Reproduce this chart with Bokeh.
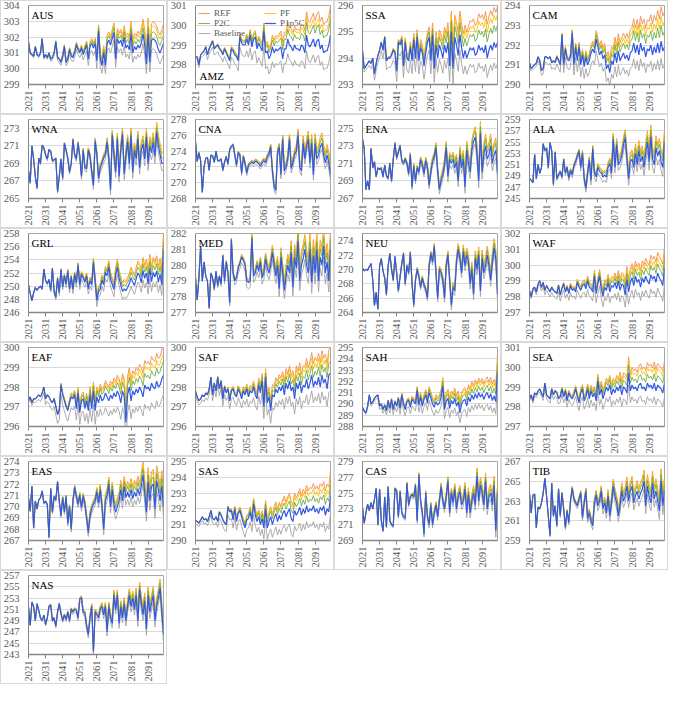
import numpy as np
from bokeh.plotting import figure
from bokeh.layouts import gridplot
from bokeh.models import Range1d, FixedTicker, Legend, LegendItem, Label
from bokeh.embed import file_html
from bokeh.resources import INLINE

years = list(range(2021, 2101))
gap_years = [2021, 2031, 2041, 2051, 2061, 2071, 2081, 2091, 2100]
x_ticks = [2021, 2031, 2041, 2051, 2061, 2071, 2081, 2091]
series_names = ["REF", "PF", "P2C", "P1p5C", "Baseline"]

# P1p5C series, and the offsets of the other scenarios from it
AUS = [301.7, 301.0, 300.9, 300.8, 301.4, 300.9, 300.8, 301.0, 301.9, 300.7,
       300.9, 300.7, 301.0, 300.6, 300.7, 301.0, 301.7, 300.7, 300.6, 300.4,
       300.8, 301.4, 300.4, 300.6, 301.2, 300.8, 300.7, 301.0, 301.5, 301.2,
       301.0, 301.3, 300.9, 301.2, 301.5, 300.6, 301.4, 301.6, 301.3, 301.6,
       300.5, 302.4, 300.6, 300.2, 301.0, 300.2, 301.6, 301.8, 301.5, 301.9,
       302.3, 300.6, 301.9, 301.6, 301.8, 301.4, 302.0, 301.3, 301.5, 301.2,
       302.2, 301.0, 301.4, 301.2, 301.5, 301.3, 301.6, 302.2, 301.5, 300.3,
       302.2, 300.4, 301.8, 301.9, 301.8, 301.6, 301.2, 301.0, 301.3, 301.6]
AUS_gaps = {"REF": [0, 0, 0.1, 0.2, 0.35, 0.6, 0.8, 1.0, 1.2],
            "PF": [0, 0, 0.1, 0.15, 0.3, 0.5, 0.6, 0.8, 0.9],
            "P2C": [0, 0, 0.05, 0.1, 0.2, 0.3, 0.35, 0.4, 0.5],
            "Baseline": [-0.1, -0.1, -0.2, -0.3, -0.5, -0.5, -0.6, -0.6, -0.7]}

AMZ = [298.4, 298.4, 298.0, 298.5, 298.6, 298.7, 298.9, 298.5, 298.8, 299.0,
       299.2, 298.8, 298.9, 299.0, 298.8, 298.7, 298.5, 298.8, 298.6, 298.4,
       298.2, 298.8, 298.7, 298.5, 298.4, 298.2, 299.4, 299.1, 299.0, 299.0,
       299.3, 299.0, 299.5, 298.9, 299.3, 299.4, 298.8, 299.1, 298.9, 298.7,
       299.7, 298.6, 298.7, 298.3, 298.5, 298.9, 298.6, 298.8, 298.7, 298.8,
       298.9, 298.3, 298.8, 298.8, 299.3, 299.0, 298.9, 298.7, 299.0, 298.8,
       298.8, 298.7, 299.0, 298.9, 298.6, 299.5, 299.0, 298.9, 299.1, 299.3,
       298.9, 299.2, 299.3, 298.8, 299.0, 298.6, 298.7, 298.7, 299.0, 299.5]
AMZ_gaps = {"REF": [0, 0.05, 0.1, 0.25, 0.4, 0.8, 1.0, 1.35, 1.5],
            "PF": [0, 0.05, 0.1, 0.2, 0.35, 0.65, 0.85, 1.0, 1.1],
            "P2C": [0, 0, 0.05, 0.15, 0.25, 0.45, 0.55, 0.7, 0.8],
            "Baseline": [-0.1, -0.3, -0.4, -0.6, -0.8, -0.7, -0.8, -0.8, -0.9]}

SSA = [294.3, 293.6, 293.7, 293.8, 293.9, 293.8, 294.0, 293.4, 293.8, 294.1,
       294.3, 294.6, 294.3, 294.8, 293.9, 294.0, 294.0, 294.1, 294.3, 294.2,
       293.5, 294.6, 294.5, 294.7, 293.7, 294.6, 294.0, 293.9, 294.4, 293.9,
       294.7, 294.0, 294.8, 293.9, 294.4, 294.2, 293.7, 294.2, 294.6, 294.8,
       293.9, 294.9, 293.6, 294.5, 294.0, 294.5, 294.3, 294.0, 294.5, 294.2,
       294.6, 293.7, 295.0, 293.6, 294.8, 294.5, 294.1, 294.9, 294.4, 294.0,
       294.3, 294.0, 294.2, 294.4, 294.3, 294.4, 294.1, 294.2, 294.5, 294.3,
       294.4, 294.2, 294.5, 294.0, 294.3, 294.5, 294.3, 294.6, 294.4, 294.6]
SSA_gaps = {"REF": [0, 0, 0.1, 0.25, 0.4, 0.75, 0.95, 1.25, 1.35],
            "PF": [0, 0, 0.1, 0.2, 0.3, 0.6, 0.75, 0.95, 1.05],
            "P2C": [0, 0, 0.05, 0.1, 0.2, 0.4, 0.45, 0.6, 0.65],
            "Baseline": [-0.1, -0.3, -0.4, -0.5, -0.5, -0.6, -0.6, -0.7, -0.8]}

CAM = [291.1, 290.8, 290.9, 291.0, 291.1, 291.4, 291.2, 290.7, 290.8, 291.4,
       291.4, 291.3, 291.4, 291.1, 291.2, 291.1, 291.4, 291.2, 291.0, 292.5,
       291.0, 291.8, 291.3, 291.2, 291.4, 292.6, 291.0, 291.9, 291.2, 291.9,
       291.0, 291.5, 290.9, 291.4, 291.0, 291.2, 291.6, 291.8, 291.6, 292.3,
       291.9, 291.5, 291.7, 291.3, 291.5, 290.8, 291.0, 290.6, 291.2, 291.0,
       291.6, 291.1, 291.7, 291.2, 291.4, 291.6, 291.3, 291.5, 291.2, 291.6,
       291.7, 292.1, 291.6, 292.0, 291.5, 292.1, 291.7, 291.9, 291.4, 291.8,
       291.7, 292.0, 291.5, 291.9, 291.6, 292.1, 291.6, 292.2, 291.7, 291.9]
CAM_gaps = {"REF": [0, 0, 0.1, 0.25, 0.45, 0.8, 1.2, 1.5, 1.8],
            "PF": [0, 0, 0.1, 0.2, 0.35, 0.6, 0.9, 1.1, 1.3],
            "P2C": [0, 0, 0.05, 0.15, 0.25, 0.4, 0.6, 0.7, 0.8],
            "Baseline": [-0.1, -0.3, -0.4, -0.6, -0.6, -0.7, -0.8, -0.8, -0.9]}

WNA = [268.2, 266.8, 271.0, 269.5, 267.5, 266.2, 269.6, 269.0, 271.1, 270.8,
       270.0, 269.5, 270.6, 270.4, 269.3, 269.4, 269.6, 265.8, 267.5, 269.5,
       267.3, 271.3, 270.5, 269.6, 268.0, 269.0, 271.7, 270.0, 269.5, 271.3,
       269.8, 267.5, 270.5, 268.5, 268.4, 270.5, 269.8, 268.0, 266.5, 271.5,
       270.0, 267.3, 268.5, 269.0, 269.6, 270.0, 271.4, 269.5, 266.0, 272.2,
       270.0, 268.0, 271.8, 267.5, 270.5, 272.3, 267.8, 269.8, 271.5, 269.0,
       272.2, 268.0, 270.5, 269.5, 271.8, 268.5, 270.5, 271.2, 269.5, 272.0,
       269.0, 271.0, 270.2, 271.4, 269.8, 272.5, 271.0, 270.0, 269.0, 269.0]
WNA_gaps = {"REF": [0, 0, 0.05, 0.2, 0.4, 0.6, 0.8, 1.0, 1.3],
            "PF": [0, 0, 0.05, 0.15, 0.3, 0.5, 0.7, 0.9, 1.1],
            "P2C": [0, 0, 0, 0.1, 0.2, 0.3, 0.4, 0.5, 0.6],
            "Baseline": [-0.1, -0.2, -0.2, -0.3, -0.5, -0.6, -0.7, -0.8, -0.8]}

CNA = [275.2, 272.7, 273.8, 272.8, 268.8, 272.0, 273.1, 273.2, 271.6, 273.5,
       273.4, 272.6, 274.0, 272.8, 272.8, 273.0, 271.6, 272.6, 273.3, 272.4,
       274.2, 274.6, 274.8, 273.5, 272.2, 273.8, 273.5, 271.2, 273.3, 272.4,
       271.2, 272.2, 272.4, 272.6, 272.4, 272.7, 272.6, 272.4, 272.1, 272.5,
       272.8, 272.5, 273.2, 273.6, 274.5, 271.5, 269.5, 269.0, 273.8, 274.5,
       271.0, 275.5, 271.5, 272.0, 273.0, 275.5, 271.8, 272.5, 273.5, 274.0,
       276.0, 272.0, 271.5, 275.0, 273.0, 274.5, 275.5, 272.5, 275.0, 271.0,
       275.0, 273.0, 273.5, 274.5, 275.0, 273.5, 272.5, 273.5, 272.5, 271.0]
CNA_gaps = {"REF": [0, 0, 0.1, 0.25, 0.35, 0.5, 0.8, 1.2, 1.4],
            "PF": [0, 0, 0.1, 0.2, 0.3, 0.4, 0.7, 1.0, 1.1],
            "P2C": [0, 0, 0.05, 0.15, 0.2, 0.3, 0.4, 0.6, 0.7],
            "Baseline": [0, -0.1, -0.2, -0.3, -0.4, -0.5, -0.6, -0.7, -0.8]}

ENA = [273.8, 272.7, 268.0, 269.0, 268.0, 272.7, 270.5, 271.2, 269.5, 270.5,
       270.3, 270.5, 269.5, 270.8, 269.6, 269.3, 271.0, 269.0, 271.5, 273.3,
       271.6, 272.3, 273.0, 271.3, 271.0, 271.5, 271.0, 269.8, 272.0, 268.3,
       270.7, 269.0, 270.5, 270.0, 271.4, 270.8, 269.8, 271.3, 270.5, 268.5,
       270.0, 271.2, 271.7, 272.8, 270.0, 268.0, 269.0, 269.7, 270.8, 272.8,
       269.5, 271.5, 271.0, 271.5, 270.5, 271.2, 269.0, 272.0, 270.5, 271.5,
       268.3, 272.5, 271.0, 270.0, 272.5, 273.5, 274.0, 272.0, 269.0, 274.5,
       270.0, 272.0, 273.0, 271.5, 272.0, 273.0, 271.0, 272.0, 272.5, 270.0]
ENA_gaps = {"REF": [0, 0, 0.1, 0.25, 0.5, 0.7, 1.0, 1.3, 1.4],
            "PF": [0, 0, 0.1, 0.2, 0.4, 0.6, 0.9, 1.1, 1.2],
            "P2C": [0, 0, 0.05, 0.15, 0.3, 0.4, 0.6, 0.7, 0.8],
            "Baseline": [0, -0.1, -0.2, -0.3, -0.4, -0.6, -0.7, -0.8, -0.9]}

ALA = [248.6, 248.2, 247.8, 252.8, 248.5, 251.0, 249.5, 250.5, 254.7, 253.5,
       254.0, 250.5, 254.9, 253.5, 247.5, 253.2, 248.5, 249.2, 249.8, 248.8,
       251.9, 249.5, 250.5, 248.6, 250.0, 249.2, 250.8, 251.5, 252.5, 253.3,
       250.5, 253.0, 248.5, 246.8, 249.5, 251.8, 248.2, 253.8, 249.5, 248.8,
       250.5, 249.8, 249.5, 248.8, 249.2, 248.8, 250.5, 251.2, 249.5, 255.5,
       250.5, 254.5, 251.0, 251.5, 252.5, 254.5, 255.8, 252.0, 248.5, 251.5,
       252.0, 250.5, 253.0, 251.0, 253.5, 251.5, 252.5, 250.5, 253.0, 255.0,
       251.5, 256.0, 252.0, 251.0, 254.0, 252.5, 253.5, 251.5, 250.5, 255.0]
ALA_gaps = {"REF": [0, 0, 0.2, 0.5, 0.7, 1.1, 1.6, 2.0, 2.2],
            "PF": [0, 0, 0.2, 0.4, 0.6, 0.9, 1.3, 1.6, 1.8],
            "P2C": [0, 0, 0.1, 0.3, 0.4, 0.6, 0.8, 1.0, 1.2],
            "Baseline": [0, -0.2, -0.4, -0.6, -0.9, -1.0, -1.2, -1.5, -1.6]}

GRL = [250.2, 248.9, 247.8, 249.0, 249.8, 249.4, 249.8, 250.0, 249.6, 252.6,
       250.9, 250.4, 251.0, 249.4, 252.7, 249.2, 248.3, 251.2, 249.0, 252.5,
       249.9, 251.6, 250.3, 252.3, 249.6, 251.4, 249.5, 251.8, 250.5, 253.2,
       250.2, 251.8, 251.2, 250.6, 251.5, 249.6, 250.8, 250.2, 253.6, 250.8,
       247.8, 249.2, 249.6, 250.9, 250.2, 252.1, 251.6, 252.9, 251.0, 250.3,
       249.5, 251.6, 252.9, 251.2, 250.2, 249.2, 249.6, 249.3, 249.8, 250.4,
       251.3, 250.6, 250.1, 251.1, 252.0, 251.6, 250.5, 252.4, 251.2, 252.0,
       250.3, 252.7, 250.7, 252.1, 251.4, 252.3, 250.6, 251.8, 250.2, 255.5]
GRL_gaps = {"REF": [0, 0, 0.2, 0.4, 0.7, 1.1, 1.6, 2.1, 2.5],
            "PF": [0, 0, 0.1, 0.3, 0.6, 0.9, 1.3, 1.7, 2.0],
            "P2C": [0, 0, 0.1, 0.2, 0.4, 0.6, 0.8, 1.0, 1.2],
            "Baseline": [0, -0.2, -0.5, -0.7, -0.9, -1.1, -1.3, -1.5, -1.6]}

MED = [279.2, 277.8, 279.2, 281.2, 279.0, 280.2, 279.3, 279.0, 277.3, 279.5,
       279.2, 278.5, 279.6, 278.7, 279.3, 278.8, 280.6, 279.0, 280.2, 279.5,
       277.6, 281.6, 279.5, 279.0, 279.2, 279.8, 280.1, 280.5, 280.3, 280.0,
       279.0, 278.9, 279.0, 281.7, 279.3, 279.5, 280.0, 279.6, 280.2, 279.2,
       279.5, 280.4, 279.8, 279.5, 280.0, 280.8, 280.0, 279.3, 280.0, 278.5,
       280.5, 279.5, 278.4, 279.3, 280.0, 279.5, 280.8, 278.6, 280.5, 279.8,
       281.5, 279.0, 280.0, 280.4, 281.0, 280.0, 279.5, 281.0, 278.9, 280.6,
       279.5, 281.0, 279.0, 280.5, 280.0, 281.2, 279.5, 280.2, 279.0, 281.0]
MED_gaps = {"REF": [0, 0, 0.1, 0.2, 0.35, 0.6, 0.85, 1.05, 1.2],
            "PF": [0, 0, 0.1, 0.2, 0.3, 0.5, 0.7, 0.85, 0.95],
            "P2C": [0, 0, 0.05, 0.1, 0.2, 0.3, 0.45, 0.5, 0.6],
            "Baseline": [0, -0.1, -0.2, -0.4, -0.4, -0.5, -0.6, -0.7, -0.7]}

NEU = [270.2, 269.8, 270.0, 269.9, 270.4, 270.8, 268.5, 265.0, 266.8, 264.5,
       270.5, 271.5, 269.8, 268.8, 266.5, 270.5, 272.2, 270.0, 268.5, 271.8,
       269.5, 267.0, 269.0, 270.8, 272.2, 268.0, 270.5, 269.5, 272.3, 268.0,
       265.0, 268.5, 270.0, 269.0, 267.5, 268.8, 267.8, 267.2, 266.0, 270.5,
       272.2, 271.0, 273.2, 269.5, 266.0, 270.0, 269.5, 268.5, 266.0, 270.5,
       272.0, 268.5, 265.0, 267.5, 267.0, 271.0, 272.8, 271.5, 269.5, 272.5,
       270.5, 272.0, 271.0, 268.0, 270.0, 266.5, 271.5, 270.0, 272.0, 267.0,
       271.5, 269.5, 270.5, 272.0, 270.5, 268.5, 271.0, 273.0, 271.5, 266.5]
NEU_gaps = {"REF": [0, 0, 0.1, 0.25, 0.35, 0.6, 0.95, 1.2, 1.3],
            "PF": [0, 0, 0.1, 0.2, 0.3, 0.5, 0.8, 1.0, 1.1],
            "P2C": [0, 0, 0.05, 0.15, 0.2, 0.3, 0.5, 0.6, 0.7],
            "Baseline": [0, -0.1, -0.2, -0.3, -0.4, -0.6, -0.7, -0.8, -0.9]}

WAF = [298.4, 298.0, 298.5, 298.6, 298.3, 298.8, 299.0, 298.6, 298.9, 298.4,
       298.7, 298.5, 298.3, 298.6, 298.4, 298.3, 298.2, 298.7, 298.1, 298.5,
       298.8, 298.3, 298.6, 298.2, 298.7, 298.4, 298.5, 298.3, 298.9, 298.6,
       298.4, 298.7, 298.8, 298.5, 299.0, 298.6, 298.5, 298.3, 299.3, 298.2,
       298.8, 299.3, 298.5, 298.0, 298.6, 298.4, 298.9, 298.3, 298.7, 298.6,
       298.9, 298.5, 299.0, 298.4, 298.8, 298.7, 298.1, 299.1, 298.3, 298.9,
       299.2, 298.7, 299.3, 298.9, 299.1, 298.6, 299.2, 298.9, 299.3, 299.0,
       298.8, 299.4, 299.1, 299.3, 298.9, 299.5, 299.2, 299.0, 298.7, 299.8]
WAF_gaps = {"REF": [0, 0, 0.1, 0.25, 0.4, 0.6, 0.9, 1.2, 1.4],
            "PF": [0, 0, 0.1, 0.2, 0.3, 0.45, 0.7, 0.9, 1.0],
            "P2C": [0, 0, 0.05, 0.1, 0.2, 0.3, 0.4, 0.55, 0.6],
            "Baseline": [-0.1, -0.3, -0.4, -0.5, -0.6, -0.7, -0.8, -0.9, -1.0]}

EAF = [297.3, 297.5, 297.2, 297.4, 297.4, 297.5, 297.6, 297.5, 297.7, 298.0,
       297.4, 297.6, 297.5, 297.3, 297.2, 297.4, 297.0, 296.6, 296.8, 298.1,
       297.6, 297.3, 297.0, 296.8, 297.2, 297.5, 297.4, 297.6, 296.9, 297.7,
       296.7, 297.3, 297.4, 296.9, 297.3, 296.8, 297.6, 296.9, 297.8, 296.8,
       297.5, 297.2, 297.6, 297.3, 297.4, 297.7, 297.5, 297.3, 297.6, 297.4,
       297.7, 297.5, 297.8, 297.6, 297.2, 297.8, 297.5, 296.2, 297.6, 298.0,
       297.3, 297.8, 297.6, 297.9, 297.7, 298.0, 297.8, 297.5, 298.1, 297.9,
       298.0, 297.8, 298.2, 298.0, 297.9, 298.3, 298.0, 298.1, 298.4, 298.6]
EAF_gaps = {"REF": [0, 0, 0.1, 0.3, 0.5, 0.75, 1.0, 1.3, 1.5],
            "PF": [0, 0, 0.1, 0.2, 0.4, 0.6, 0.8, 1.0, 1.1],
            "P2C": [0, 0, 0.05, 0.15, 0.3, 0.4, 0.5, 0.6, 0.7],
            "Baseline": [-0.1, -0.3, -0.5, -0.6, -0.7, -0.8, -0.9, -1.0, -1.0]}

SAF = [297.8, 297.5, 297.3, 297.4, 297.6, 297.5, 297.7, 297.6, 297.9, 298.5,
       297.6, 298.2, 297.8, 298.5, 297.9, 298.3, 297.4, 298.0, 297.7, 297.9,
       297.3, 297.8, 297.9, 297.6, 297.5, 297.9, 297.7, 297.4, 297.8, 297.6,
       297.9, 297.5, 297.8, 297.7, 298.0, 297.6, 297.4, 298.1, 297.7, 298.3,
       297.0, 298.5, 297.2, 297.5, 296.8, 297.6, 297.5, 297.9, 297.7, 298.0,
       297.8, 298.1, 297.6, 298.2, 297.9, 298.3, 297.8, 298.0, 297.4, 298.2,
       297.9, 298.3, 297.7, 298.1, 298.0, 298.4, 297.9, 298.2, 298.6, 298.0,
       298.3, 298.1, 298.5, 298.0, 298.6, 298.2, 298.4, 297.9, 298.6, 298.7]
SAF_gaps = {"REF": [0, 0, 0.1, 0.25, 0.4, 0.65, 0.9, 1.2, 1.3],
            "PF": [0, 0, 0.1, 0.2, 0.3, 0.5, 0.7, 0.9, 1.0],
            "P2C": [0, 0, 0.05, 0.1, 0.2, 0.3, 0.4, 0.5, 0.6],
            "Baseline": [-0.2, -0.3, -0.4, -0.5, -0.6, -0.7, -0.8, -0.8, -0.9]}

SAH = [289.7, 289.4, 289.2, 289.8, 290.8, 290.0, 290.2, 290.5, 290.7, 290.8,
       289.8, 290.0, 289.5, 289.9, 289.4, 290.3, 289.6, 290.4, 289.5, 290.2,
       289.8, 290.5, 289.6, 290.8, 290.0, 289.5, 290.2, 290.3, 289.7, 290.4,
       290.2, 290.0, 291.2, 289.9, 290.6, 289.8, 290.4, 290.8, 290.1, 291.0,
       290.5, 290.0, 289.7, 290.2, 289.9, 290.1, 290.6, 291.6, 289.5, 290.2,
       290.5, 289.6, 290.3, 290.0, 290.5, 289.8, 290.2, 289.2, 290.0, 290.3,
       290.4, 289.8, 290.6, 290.2, 290.8, 290.4, 290.9, 290.5, 291.0, 290.6,
       290.9, 290.4, 290.8, 291.0, 290.5, 290.9, 290.3, 290.7, 290.2, 292.8]
SAH_gaps = {"REF": [0, 0, 0.1, 0.3, 0.55, 0.8, 1.05, 1.35, 1.5],
            "PF": [0, 0, 0.1, 0.25, 0.45, 0.65, 0.85, 1.05, 1.15],
            "P2C": [0, 0, 0.05, 0.15, 0.3, 0.4, 0.5, 0.6, 0.7],
            "Baseline": [-0.1, -0.3, -0.5, -0.6, -0.7, -0.8, -0.9, -1.0, -1.1]}

SEA = [298.4, 298.6, 298.3, 298.7, 298.6, 298.8, 298.9, 298.7, 298.5, 299.2,
       298.6, 298.5, 298.4, 298.9, 298.6, 298.8, 298.7, 298.4, 298.5, 298.9,
       298.5, 298.8, 298.3, 298.7, 298.5, 298.4, 298.6, 298.9, 298.5, 298.2,
       298.7, 298.9, 298.3, 298.5, 298.9, 298.4, 298.8, 298.5, 298.7, 298.3,
       299.3, 298.6, 298.9, 298.4, 298.7, 299.0, 298.8, 299.1, 298.6, 298.9,
       298.7, 299.0, 298.8, 299.1, 298.6, 299.0, 298.9, 298.7, 299.7, 298.8,
       299.1, 298.9, 299.0, 298.8, 299.1, 299.2, 298.9, 299.0, 298.8, 299.2,
       299.0, 299.1, 298.9, 299.2, 298.8, 299.1, 299.0, 298.9, 298.7, 299.2]
SEA_gaps = {"REF": [0, 0, 0.1, 0.2, 0.35, 0.55, 0.9, 1.05, 1.1],
            "PF": [0, 0, 0.1, 0.15, 0.3, 0.45, 0.7, 0.8, 0.85],
            "P2C": [0, 0, 0.05, 0.1, 0.2, 0.3, 0.4, 0.45, 0.5],
            "Baseline": [-0.1, -0.2, -0.3, -0.4, -0.5, -0.6, -0.6, -0.7, -0.7]}

EAS = [270.8, 269.6, 271.8, 268.1, 270.5, 269.8, 270.6, 270.8, 271.4, 270.3,
       270.5, 270.2, 267.3, 271.6, 269.5, 270.9, 270.6, 272.2, 270.5, 269.2,
       270.8, 269.5, 270.9, 268.5, 270.0, 268.0, 270.5, 271.7, 270.9, 270.2,
       271.0, 269.9, 270.9, 270.2, 269.0, 267.7, 269.2, 269.8, 270.2, 270.5,
       271.3, 270.3, 271.5, 270.0, 268.0, 270.5, 271.0, 272.0, 270.0, 271.5,
       270.2, 269.5, 270.0, 270.5, 271.5, 270.5, 271.8, 270.8, 271.3, 270.8,
       271.5, 270.7, 271.3, 270.9, 271.6, 271.0, 271.8, 272.8, 271.2, 269.5,
       272.2, 270.5, 271.8, 272.0, 269.8, 272.3, 271.5, 270.5, 271.8, 270.0]
EAS_gaps = {"REF": [0, 0, 0.1, 0.25, 0.4, 0.7, 1.0, 1.25, 1.4],
            "PF": [0, 0, 0.1, 0.2, 0.35, 0.6, 0.8, 1.0, 1.1],
            "P2C": [0, 0, 0.05, 0.15, 0.25, 0.4, 0.5, 0.6, 0.7],
            "Baseline": [0, -0.1, -0.2, -0.3, -0.4, -0.6, -0.7, -0.8, -0.9]}

SAS = [291.3, 291.2, 291.1, 291.3, 291.5, 291.3, 291.4, 291.2, 291.5, 291.9,
       291.4, 291.3, 291.5, 291.2, 291.8, 291.6, 291.3, 291.1, 291.0, 292.1,
       291.8, 291.9, 291.3, 292.0, 291.2, 291.7, 291.9, 291.5, 291.1, 290.8,
       291.3, 291.4, 291.8, 291.2, 292.3, 291.6, 291.2, 291.5, 291.0, 291.4,
       290.8, 292.0, 290.8, 291.2, 291.5, 291.0, 291.4, 291.7, 291.2, 291.6,
       291.3, 291.7, 291.9, 291.5, 291.8, 292.0, 291.4, 291.2, 291.9, 291.6,
       291.8, 292.1, 291.6, 292.0, 291.7, 292.2, 291.8, 292.0, 291.9, 292.2,
       291.8, 292.0, 291.7, 292.1, 291.9, 292.2, 291.6, 292.0, 291.8, 292.8]
SAS_gaps = {"REF": [0, 0, 0.1, 0.3, 0.5, 0.85, 1.15, 1.45, 1.6],
            "PF": [0, 0, 0.1, 0.25, 0.45, 0.7, 0.95, 1.1, 1.2],
            "P2C": [0, 0, 0.05, 0.15, 0.3, 0.45, 0.55, 0.65, 0.7],
            "Baseline": [-0.2, -0.3, -0.5, -0.6, -0.7, -0.9, -1.0, -1.0, -1.1]}

CAS = [273.2, 271.2, 272.5, 273.6, 272.8, 273.8, 273.0, 274.2, 275.6, 271.0,
       275.5, 271.5, 270.2, 274.5, 270.7, 275.8, 271.5, 271.0, 270.8, 275.6,
       275.3, 272.0, 275.2, 272.5, 272.0, 271.8, 276.2, 273.5, 274.5, 274.8,
       274.5, 276.0, 271.5, 277.3, 274.0, 272.5, 269.8, 275.0, 272.0, 271.0,
       273.5, 271.0, 272.5, 273.5, 272.0, 274.0, 275.8, 274.0, 273.0, 274.5,
       276.5, 272.5, 275.0, 273.8, 275.5, 273.0, 274.5, 275.2, 273.5, 274.0,
       275.5, 272.5, 274.8, 272.5, 274.0, 275.0, 273.5, 277.2, 274.0, 276.0,
       275.0, 273.5, 276.5, 273.0, 274.5, 275.0, 273.5, 276.0, 270.2, 275.0]
CAS_gaps = {"REF": [0, 0, 0.1, 0.25, 0.35, 0.6, 0.85, 1.05, 1.15],
            "PF": [0, 0, 0.1, 0.2, 0.3, 0.5, 0.7, 0.85, 0.95],
            "P2C": [0, 0, 0.05, 0.1, 0.2, 0.3, 0.4, 0.5, 0.55],
            "Baseline": [0, -0.1, -0.2, -0.3, -0.4, -0.5, -0.6, -0.7, -0.8]}

TIB = [263.8, 261.8, 263.6, 263.7, 260.3, 262.4, 262.2, 262.8, 263.8, 265.3,
       263.5, 261.5, 259.5, 264.8, 261.5, 262.5, 260.5, 264.2, 261.5, 263.8,
       262.2, 260.3, 262.0, 260.8, 263.0, 264.3, 263.2, 262.8, 262.5, 263.2,
       263.8, 261.3, 262.8, 264.0, 261.2, 261.8, 261.0, 260.5, 262.8, 263.6,
       262.5, 263.0, 264.0, 262.2, 262.8, 261.8, 263.5, 261.5, 262.8, 264.5,
       263.5, 262.8, 261.5, 262.5, 264.0, 263.0, 263.5, 264.5, 263.0, 264.0,
       264.5, 262.8, 263.5, 264.0, 263.2, 263.8, 264.2, 265.0, 262.5, 264.5,
       263.5, 262.8, 264.8, 263.2, 264.0, 263.0, 262.0, 265.0, 262.5, 264.0]
TIB_gaps = {"REF": [0, 0, 0.1, 0.25, 0.5, 0.75, 1.0, 1.2, 1.3],
            "PF": [0, 0, 0.1, 0.2, 0.4, 0.6, 0.8, 1.0, 1.1],
            "P2C": [0, 0, 0.05, 0.15, 0.3, 0.4, 0.5, 0.6, 0.7],
            "Baseline": [0, -0.1, -0.2, -0.3, -0.5, -0.6, -0.7, -0.8, -0.9]}

NAS = [251.4, 248.2, 252.3, 251.5, 249.0, 252.0, 250.8, 249.5, 249.0, 250.0,
       248.3, 249.5, 251.6, 251.8, 249.0, 249.5, 248.0, 250.5, 252.0, 250.3,
       249.0, 250.0, 249.2, 250.5, 249.0, 251.0, 250.5, 251.0, 250.8, 249.5,
       252.8, 253.0, 250.5, 250.3, 248.0, 246.5, 249.5, 251.5, 243.5, 250.5,
       250.0, 249.5, 251.0, 251.5, 250.0, 251.5, 247.0, 251.5, 249.5, 248.5,
       253.5, 251.0, 253.5, 248.5, 251.5, 249.5, 252.0, 249.0, 251.5, 253.5,
       251.5, 253.0, 251.0, 253.5, 249.0, 254.5, 252.0, 250.0, 252.5, 247.5,
       253.5, 250.5, 252.0, 253.5, 249.0, 251.5, 253.0, 254.8, 250.5, 246.5]
NAS_gaps = {"REF": [0, 0, 0.2, 0.35, 0.6, 0.9, 1.2, 1.5, 1.6],
            "PF": [0, 0, 0.1, 0.3, 0.5, 0.8, 1.0, 1.3, 1.4],
            "P2C": [0, 0, 0.1, 0.2, 0.3, 0.5, 0.6, 0.8, 0.9],
            "Baseline": [0, -0.2, -0.3, -0.5, -0.6, -0.8, -1.0, -1.1, -1.2]}

regions = ["AUS", "AMZ", "SSA", "CAM", "WNA", "CNA", "ENA", "ALA", "GRL", "MED", "NEU",
           "WAF", "EAF", "SAF", "SAH", "SEA", "EAS", "SAS", "CAS", "TIB", "NAS"]
base_data = {"AUS": AUS, "AMZ": AMZ, "SSA": SSA, "CAM": CAM, "WNA": WNA, "CNA": CNA,
             "ENA": ENA, "ALA": ALA, "GRL": GRL, "MED": MED, "NEU": NEU, "WAF": WAF,
             "EAF": EAF, "SAF": SAF, "SAH": SAH, "SEA": SEA, "EAS": EAS, "SAS": SAS,
             "CAS": CAS, "TIB": TIB, "NAS": NAS}
gap_data = {"AUS": AUS_gaps, "AMZ": AMZ_gaps, "SSA": SSA_gaps, "CAM": CAM_gaps,
            "WNA": WNA_gaps, "CNA": CNA_gaps, "ENA": ENA_gaps, "ALA": ALA_gaps,
            "GRL": GRL_gaps, "MED": MED_gaps, "NEU": NEU_gaps, "WAF": WAF_gaps,
            "EAF": EAF_gaps, "SAF": SAF_gaps, "SAH": SAH_gaps, "SEA": SEA_gaps,
            "EAS": EAS_gaps, "SAS": SAS_gaps, "CAS": CAS_gaps, "TIB": TIB_gaps,
            "NAS": NAS_gaps}
# y axis: (min, max, tick step)
y_axes = {"AUS": (299, 304, 1), "AMZ": (297, 301, 1), "SSA": (293, 296, 1),
          "CAM": (290, 294, 1), "WNA": (265, 274, 2), "CNA": (268, 278, 2),
          "ENA": (267, 276, 2), "ALA": (245, 259, 2), "GRL": (246, 258, 2),
          "MED": (277, 282, 1), "NEU": (264, 275, 2), "WAF": (297, 302, 1),
          "EAF": (296, 300, 1), "SAF": (296, 300, 1), "SAH": (288, 295, 1),
          "SEA": (297, 301, 1), "EAS": (267, 274, 1), "SAS": (290, 295, 1),
          "CAS": (269, 279, 2), "TIB": (259, 267, 2), "NAS": (243, 257, 2)}

colors = {"REF": "#F28E55", "PF": "#FFC000", "P2C": "#70AD47",
          "P1p5C": "#3358E6", "Baseline": "#A3A3A3"}
widths = {"REF": 0.9, "PF": 0.9, "P2C": 0.9, "P1p5C": 1.2, "Baseline": 0.9}
draw_order = ["Baseline", "REF", "PF", "P2C", "P1p5C"]

SERIF = "Liberation Serif"
W, H = 167, 114
yrs = np.array(years, dtype=float)


def make_panel(name):
    lo, hi, step = y_axes[name]
    p = figure(width=W, height=H, x_range=Range1d(2021, 2100), y_range=Range1d(lo, hi),
               output_backend="svg", toolbar_location=None,
               min_border_left=26, min_border_right=4, min_border_top=5, min_border_bottom=29)
    p.border_fill_alpha = 0
    p.background_fill_color = "white"
    p.outline_line_color = "#a6a6a6"
    p.styles = {"box-shadow": "inset 0 0 0 1px #d9d9d9"}
    yt = list(range(lo, hi + 1, step))
    p.yaxis.ticker = FixedTicker(ticks=yt)
    p.xaxis.ticker = FixedTicker(ticks=x_ticks)
    p.xgrid.grid_line_color = None
    p.ygrid.grid_line_color = "#d9d9d9"
    for ax in (p.xaxis, p.yaxis):
        ax.axis_line_color = "#868686"
        ax.major_label_text_font = SERIF
        ax.major_label_text_font_size = "10.5px"
        ax.major_label_text_color = "#595959"
        ax.minor_tick_line_color = None
    p.yaxis.major_tick_line_color = None
    p.yaxis.major_label_standoff = 3
    p.xaxis.axis_line_width = 1.5
    p.xaxis.major_tick_line_color = "#868686"
    p.xaxis.major_tick_out = 4
    p.xaxis.major_tick_in = 0
    p.xaxis.major_label_standoff = 2
    p.xaxis.major_label_orientation = np.pi / 2

    base = np.array(base_data[name], dtype=float)
    gaps = gap_data[name]
    rends = {}
    for s in draw_order:
        vals = base if s == "P1p5C" else base + np.interp(yrs, gap_years, gaps[s])
        rends[s] = p.line(yrs, vals, line_color=colors[s], line_width=widths[s])

    if name == "AMZ":
        lab = Label(x=2021 + 79 * 4 / 137, y=lo + (hi - lo) * 0.03, text=name,
                    text_baseline="bottom", text_font=SERIF, text_font_size="11px",
                    text_color="black")
        p.add_layout(lab)
        items = [LegendItem(label=s, renderers=[rends[s]]) for s in series_names]
        leg = Legend(items=items, location="top_left", orientation="horizontal", ncols=2,
                     label_text_font=SERIF, label_text_font_size="9px",
                     label_text_color="#595959", glyph_width=12, glyph_height=8,
                     label_height=8, label_width=50, label_standoff=4, spacing=0,
                     padding=2, margin=3, background_fill_alpha=0, border_line_color=None)
        p.add_layout(leg)
    else:
        lab = Label(x=2021 + 79 * 3 / 137, y=hi - (hi - lo) * 0.12, text=name,
                    text_baseline="middle", text_font=SERIF, text_font_size="11px",
                    text_color="black")
        p.add_layout(lab)
    return p


figs = [make_panel(r) for r in regions]
rows = [figs[i:i + 4] for i in range(0, len(figs), 4)]
rows[-1] = rows[-1] + [None] * (4 - len(rows[-1]))
grid = gridplot(rows, toolbar_location=None)

open("out.html", "w").write(file_html(grid, INLINE))
